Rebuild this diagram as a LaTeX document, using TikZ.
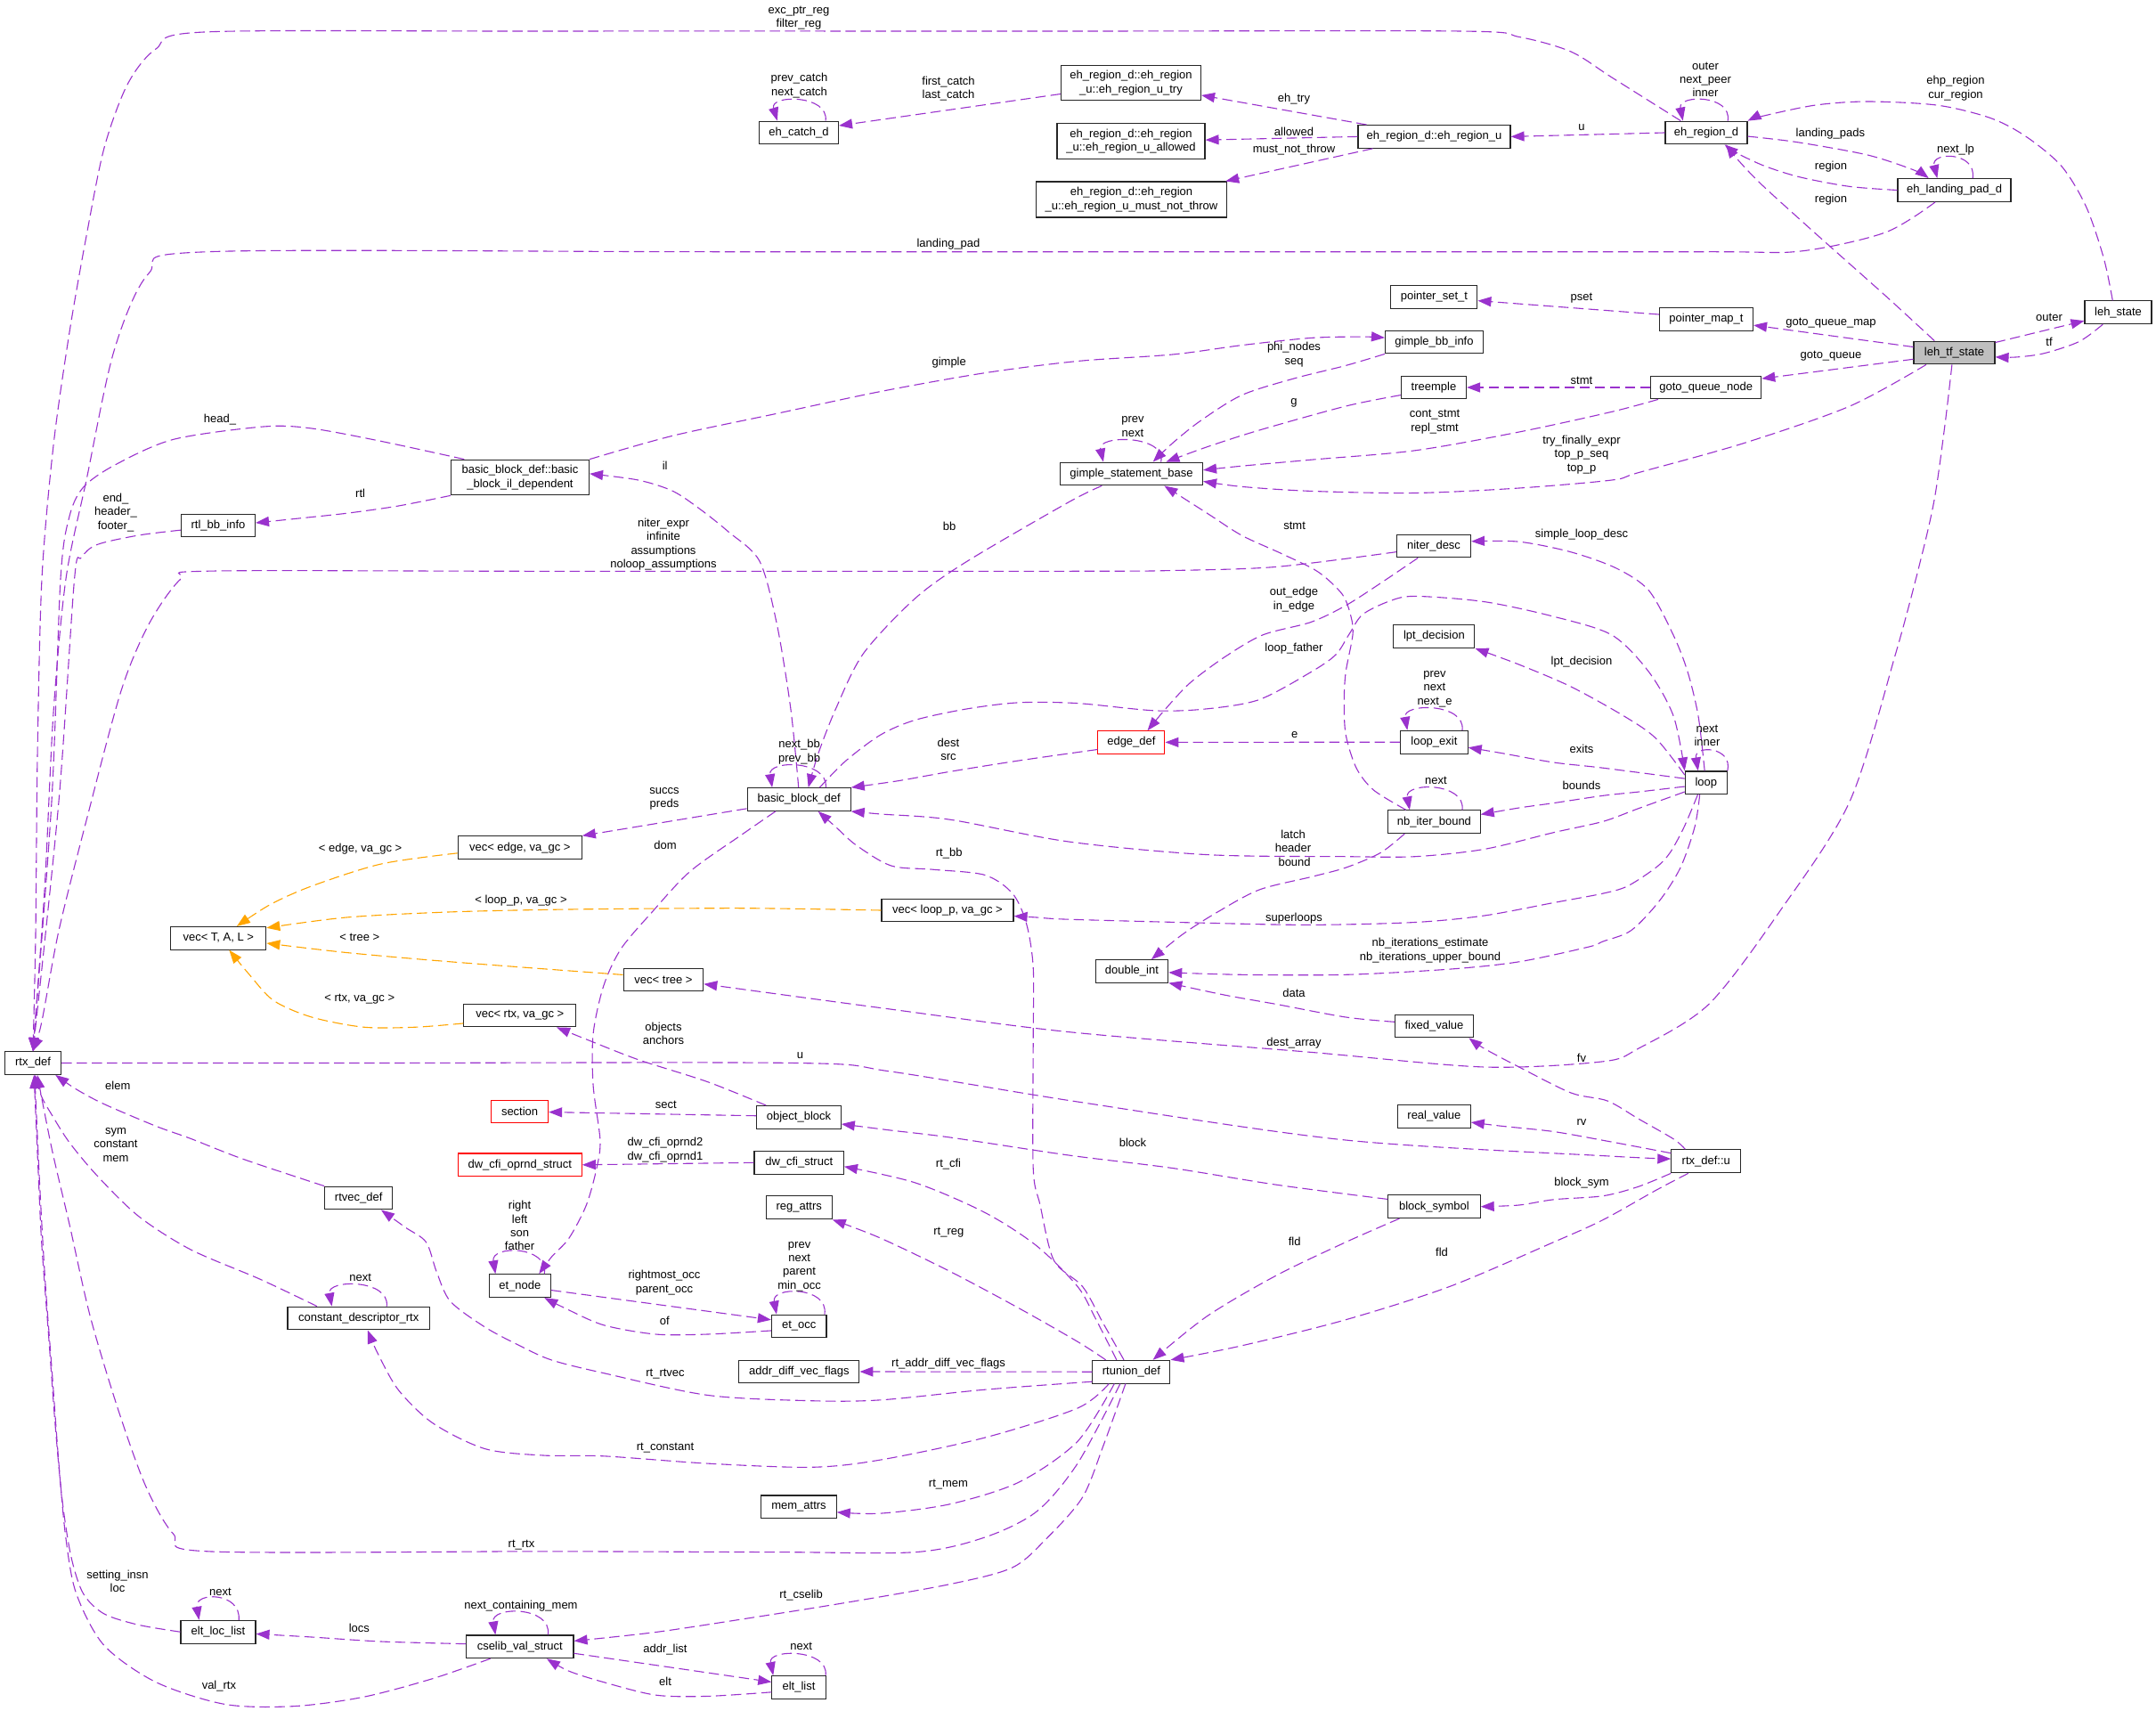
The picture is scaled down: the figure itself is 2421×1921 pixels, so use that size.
\documentclass[tikz,border=0pt]{standalone}
\usepackage{fontspec}
\setmainfont{Liberation Sans}
\usetikzlibrary{arrows.meta}
\definecolor{ecol}{HTML}{9A32CD}
\definecolor{ocol}{HTML}{FFA500}
\definecolor{gfill}{HTML}{BFBFBF}
\newcommand\dxfont{\fontsize{13}{15.3}\selectfont}
\begin{document}
\begin{tikzpicture}[x=1pt,y=-1pt,
  cls/.style={draw=black!85, line width=1.1pt, fill=white, inner sep=0pt, minimum height=25.7pt, align=center, font=\dxfont},
  redbox/.style={cls, draw=red},
  lbl/.style={inner sep=0pt, align=center, font=\dxfont},
  rel/.style={draw=ecol, line width=1.1pt, dash pattern=on 11.5pt off 5.5pt, -{Triangle[length=15pt,width=11pt]}},
  tmpl/.style={rel, draw=ocol}]
\useasboundingbox[fill=white] (0,0) rectangle (2421,1921);

% ---------- nodes ----------
\node[cls, minimum width=89pt] (ehcatch) at (897,149) {eh\_catch\_d};
\node[cls, minimum width=157pt, minimum height=39.5pt] (utry) at (1270,93) {eh\_region\_d::eh\_region\\\_u::eh\_region\_u\_try};
\node[cls, minimum width=166pt, minimum height=39.5pt] (uallowed) at (1270,158.6) {eh\_region\_d::eh\_region\\\_u::eh\_region\_u\_allowed};
\node[cls, minimum width=214.5pt, minimum height=40pt] (umnt) at (1270.5,224) {eh\_region\_d::eh\_region\\\_u::eh\_region\_u\_must\_not\_throw};
\node[cls, minimum width=171pt] (ehu) at (1610.5,153.4) {eh\_region\_d::eh\_region\_u};
\node[cls, minimum width=92pt] (ehr) at (1916,149) {eh\_region\_d};
\node[cls, minimum width=127pt] (ehlp) at (2194.5,213.5) {eh\_landing\_pad\_d};
\node[cls, minimum width=75pt] (lehs) at (2378.5,350.7) {leh\_state};
\node[cls, fill=gfill, minimum width=91pt] (lehtf) at (2194.5,396) {leh\_tf\_state};
\node[cls, minimum width=105pt] (pmap) at (1916,358.6) {pointer\_map\_t};
\node[cls, minimum width=124pt] (gqn) at (1915.7,435) {goto\_queue\_node};
\node[cls, minimum width=97pt] (pset) at (1610.4,333.3) {pointer\_set\_t};
\node[cls, minimum width=110pt] (gbb) at (1610.5,384) {gimple\_bb\_info};
\node[cls, minimum width=73pt] (treemple) at (1610,435) {treemple};
\node[cls, minimum width=160pt] (gsb) at (1270.5,532) {gimple\_statement\_base};
\node[cls, minimum width=83pt] (niter) at (1610,613) {niter\_desc};
\node[cls, minimum width=155pt, minimum height=39.6pt] (bbil) at (584,536) {basic\_block\_def::basic\\\_block\_il\_dependent};
\node[cls, minimum width=83pt] (rtlbb) at (245,590) {rtl\_bb\_info};
\node[cls, minimum width=63pt] (rtx) at (37,1193.5) {rtx\_def};
\node[cls, minimum width=107pt] (vecT) at (245.3,1053.3) {vec< T, A, L >};
\node[cls, minimum width=139pt] (vecedge) at (583.8,951.7) {vec< edge, va\_gc >};
\node[cls, minimum width=126pt] (vecrtx) at (583.8,1140) {vec< rtx, va\_gc >};
\node[redbox, minimum width=64pt] (sectn) at (583.6,1248) {section};
\node[cls, minimum width=116pt] (bbd) at (897.2,897.5) {basic\_block\_def};
\node[cls, minimum width=148pt] (veclp) at (1064,1022) {vec< loop\_p, va\_gc >};
\node[cls, minimum width=89.5pt] (vectree) at (745,1100) {vec< tree >};
\node[cls, minimum width=94.5pt] (objblk) at (897,1254.4) {object\_block};
\node[redbox, minimum width=75pt, minimum height=25.3pt] (edgedef) at (1270.4,833.4) {edge\_def};
\node[cls, minimum width=91pt] (lpt) at (1610.4,714.6) {lpt\_decision};
\node[cls, minimum width=75.5pt] (lexit) at (1610.4,833.2) {loop\_exit};
\node[cls, minimum width=103.5pt] (nbib) at (1610.4,922.7) {nb\_iter\_bound};
\node[cls, minimum width=81.7pt, minimum height=25.3pt] (dint) at (1270.9,1090.4) {double\_int};
\node[cls, minimum width=88pt] (fixv) at (1610.5,1152) {fixed\_value};
\node[cls, minimum width=81.7pt] (realv) at (1610.4,1253.5) {real\_value};
\node[cls, minimum width=47pt] (loopn) at (1915.8,878.8) {loop};
\node[cls, minimum width=78pt, minimum height=26pt] (rtxu) at (1915.8,1303.8) {rtx\_def::u};
\node[redbox, minimum width=139pt] (dwop) at (583.8,1307.8) {dw\_cfi\_oprnd\_struct};
\node[cls, minimum width=76pt] (rtvec) at (402.7,1345) {rtvec\_def};
\node[cls, minimum width=69pt] (etnode) at (583.8,1443.6) {et\_node};
\node[cls, minimum width=159.5pt] (cdrtx) at (402.7,1480) {constant\_descriptor\_rtx};
\node[cls, minimum width=100.4pt] (dwcfi) at (897.2,1305.3) {dw\_cfi\_struct};
\node[cls, minimum width=74pt, minimum height=26pt] (regat) at (897.2,1355.8) {reg\_attrs};
\node[cls, minimum width=61.5pt] (etocc) at (897.2,1489) {et\_occ};
\node[cls, minimum width=135pt] (adv) at (897.4,1540) {addr\_diff\_vec\_flags};
\node[cls, minimum width=84.4pt] (memat) at (897,1691.8) {mem\_attrs};
\node[cls, minimum width=60.3pt] (eltlist) at (897,1894.4) {elt\_list};
\node[cls, minimum width=120.4pt] (cselib) at (583.8,1848.8) {cselib\_val\_struct};
\node[cls, minimum width=84pt] (eltloc) at (245,1832.2) {elt\_loc\_list};
\node[cls, minimum width=87pt] (rtun) at (1270.4,1540.2) {rtunion\_def};
\node[cls, minimum width=103.5pt] (bsym) at (1610.4,1354.7) {block\_symbol};

% ---------- edges ----------
% into rtx_def (top)
\draw[rel] plot[smooth] coordinates {(ehr.155) (1810,87) (1764,58) (1706,41.5) (1640,35) (1200,35) (600,35) (229,36) (175,55) (143,95) (117,166) (97,265) (78,373) (60,500) (47,650) (42,850) (40,1050) (rtx.north)};
\draw[rel] plot[smooth] coordinates {(ehlp.212) (2117,261) (2022,282) (1919,282.7) (1500,282.7) (800,282.7) (233,282.7) (167,307) (128,394) (97,539) (74,650) (60,800) (50,1000) (rtx.north)};
\draw[rel] plot[smooth] coordinates {(bbil.162.5) (428,495.4) (350,481) (296,479) (194.5,493.4) (128.4,522.4) (93.4,547.3) (77.8,580.4) (68,650) (58,900) (rtx.north)};
\draw[rel] plot[smooth] coordinates {(rtlbb.187) (155.6,601) (109,611.5) (91.4,626) (83.6,650) (66,900) (rtx.north)};
\draw[rel] plot[smooth] coordinates {(niter.189) (1433.4,636.4) (1316.7,640.5) (1200,641.3) (600,641.3) (233.4,641.2) (202.3,650.7) (167.3,700.5) (136.2,775) (97.3,920) (66.1,1044.6) (46.7,1148) (rtx.north)};
% rtx_def -> rtx_def::u
\draw[rel] plot[smooth] coordinates {(rtx.east) (400,1193.5) (895,1193.5) (1000,1203) (1210,1237) (1511,1280) (1807,1298) (rtxu.176)};

% eh region group
\draw[rel] (utry.189) -- (ehcatch.10);
\draw[rel] (ehcatch.24) .. controls (931,106) and (864,106) .. (ehcatch.151.5);
\draw[rel] (ehu.170.4) -- (utry.-10);
\draw[rel] (ehu.west) -- (uallowed.1.3);
\draw[rel] (ehu.191.7) -- (umnt.11.1);
\draw[rel] (ehr.west) -- (ehu.east);
\draw[rel] (ehr.29) .. controls (1945,106) and (1884,106) .. (ehr.153.4);
\draw[rel] plot[smooth] coordinates {(ehr.-5) (2017.8,159.6) (2097,174) (2148.5,190.7) (ehlp.155.7)};
\draw[rel] plot[smooth] coordinates {(ehlp.west) (2077,209.4) (2021.8,199) (1982,186.6) (1950.5,172) (ehr.-33.8)};
\draw[rel] plot[smooth] coordinates {(lehtf.149.7) (2116.8,331.7) (2037.6,261.2) (1978.2,207.3) (1950.5,178.3) (ehr.-31)};
\draw[rel] (ehlp.33.5) .. controls (2220,170) and (2168,170) .. (ehlp.145.2);
\draw[rel] plot[smooth] coordinates {(lehs.115) (2362.4,290.2) (2342.6,232.2) (2314.9,186.6) (2275.2,153.4) (2235.6,132.7) (2176,118.2) (2097,114) (2037.6,118.2) (1978.2,130.6) (ehr.16.4)};
\draw[rel] (lehtf.14) -- (lehs.194);
\draw[rel] plot[smooth] coordinates {(lehs.218.8) (2334.7,383.5) (2295,396.8) (2263.4,401) (lehtf.-6.3)};
\draw[rel] (lehtf.172.1) -- (pmap.-7.7);
\draw[rel] (lehtf.189.2) -- (gqn.9.2);
\draw[rel] (pmap.174.6) -- (pset.-5.5);
\draw[rel] (gqn.west) -- (treemple.east);
\draw[rel] plot[smooth] coordinates {(gqn.194.9) (1810,462.3) (1705.8,485) (1589,505.8) (1472.3,516.2) (1394.5,523.2) (gsb.3.9)};
\draw[rel] plot[smooth] coordinates {(lehtf.203.2) (2077.2,456) (1958.4,497.5) (1839.6,530.7) (1810,539) (1705.8,548) (1589,553.5) (1472.3,551.4) (1394.5,546.4) (gsb.-6.4)};
\draw[rel] plot[smooth] coordinates {(gbb.south west) (1511.2,410.4) (1452.9,425) (1394.5,443.6) (1347.8,472.6) (1316.7,497.5) (gsb.29.3)};
\draw[rel] plot[smooth] coordinates {(treemple.193.3) (1511.2,456) (1414,483) (1355.6,501.7) (gsb.19.4)};
\draw[rel] (gsb.22.2) .. controls (1310,488) and (1232,488) .. (gsb.157.8);
\draw[rel] plot[smooth] coordinates {(bbil.north east) (755.6,489.2) (872.3,464.3) (989,439.5) (1105.8,418.7) (1210,405.5) (1316.7,398) (1394.5,387.6) (1472.3,379.4) (1530.7,378.1) (gbb.175.2)};
\draw[rel] plot[smooth] coordinates {(bbil.south west) (447.4,568) (389,576.3) (330.7,582.5) (rtlbb.4.5)};
% dest_array
\draw[rel] plot[smooth] coordinates {(lehtf.-101) (2184,476.8) (2172.3,559.7) (2156.4,630) (2128.7,733.6) (2077.2,899.5) (1998,1023.9) (1918.8,1127.5) (1839.6,1177.3) (1800,1191.8) (1666.8,1198) (1472.3,1181.4) (1200,1158.6) (989,1131.6) (vectree.-6.8)};

% basic block group
\draw[rel] plot[smooth] coordinates {(bbd.92) (887.9,795.8) (872.3,700.5) (852.9,630) (817.9,597) (786.7,572.1) (755.6,551.4) (716.7,539) (bbil.3.9)};
\draw[rel] plot[smooth] coordinates {(gsb.202.1) (1200,563.8) (1086.3,630) (1028,671.5) (969.6,733.6) (938.5,795.8) (919,845.6) (bbd.52)};
\draw[rel] (bbd.24.9) .. controls (930,853) and (862,853) .. (bbd.156);
\draw[rel] plot[smooth] coordinates {(bbd.30.5) (950.1,853.9) (989,824.9) (1028,808.3) (1086.3,795.8) (1144.6,788.8) (1210,789.6) (1297.3,797.9) (1355.6,795.8) (1414,785.5) (1472.3,754.4) (1500,735) (1515,712) (1530,690) (1560,675) (1589,669.4) (1666.8,675.6) (1744.6,692.2) (1810,713) (1851.5,754.4) (1879.2,804.1) (loopn.north west)};
\draw[rel] plot[smooth] coordinates {(loopn.97) (1907,804) (1895,754) (1879,713) (1851.5,663) (1815,638) (1764.1,619.8) (1705.8,608.2) (niter.7.7)};
\draw[rel] (loopn.north east) .. controls (1946,838) and (1902,836) .. (loopn.124.4);
\draw[rel] plot[smooth] coordinates {(loopn.160) (1859.4,829) (1823.8,804.1) (1764.1,771) (1705.7,746.1) (lpt.south east)};
\draw[rel] plot[smooth] coordinates {(loopn.169.9) (1800,862.2) (1744.6,856) (1686.3,845.6) (lexit.-9.3)};
\draw[rel] plot[smooth] coordinates {(loopn.190) (1839.6,889.1) (1800,893.3) (1744.6,901.6) (1705.8,907) (nbib.9.5)};
\draw[rel] plot[smooth] coordinates {(loopn.203) (1839.6,907.8) (1800,922.3) (1744.6,934.7) (1666.8,953.4) (1589,961.7) (1511.2,961.7) (1355.6,959.6) (1200,945) (1066.8,920.2) (989,914) (bbd.south east)};
\draw[rel] (nbib.23.75) .. controls (1646,878) and (1577,878) .. (nbib.154.7);
\draw[rel] plot[smooth] coordinates {(nbib.157.5) (1542.4,887) (1523,862.2) (1511.2,824.9) (1509.3,787.5) (1511.2,754.4) (1519,712.9) (1517,692.2) (1507.3,667.3) (1480,642) (1440,622) (1394.5,601.2) (1355.6,576.3) (gsb.-20.4)};
\draw[rel] plot[smooth] coordinates {(niter.217.1) (1550.1,654.9) (1511.2,679.8) (1472.3,698.4) (1417.9,712.9) (1375,737.8) (1336.2,766.8) (1308.9,795.8) (edgedef.36.7)};
\draw[rel] (lexit.west) -- (edgedef.east);
\draw[rel] (lexit.23.75) .. controls (1646,789) and (1575,789) .. (lexit.156.2);
\draw[rel] plot[smooth] coordinates {(edgedef.192) (1144.6,853.9) (1066.8,866.3) (1008.5,876.7) (bbd.north east)};
\draw[rel] (bbd.190.8) -- (vecedge.north east);
\draw[rel] plot[smooth] coordinates {(bbd.207.3) (833.4,936.8) (775,978.3) (732.3,1023.9) (697.3,1065.3) (677.8,1106.8) (666.1,1160.7) (666.1,1218.7) (673.9,1280) (670,1311.5) (658.4,1353) (638.9,1390.2) (619.5,1411) (etnode.32.5)};
\draw[rel] plot[smooth] coordinates {(rtun.122.5) (1238.9,1485.9) (1215.6,1444.4) (1183.5,1415.3) (1168,1353) (1160.2,1311.5) (1160.2,1169) (1160.2,1086) (1152.4,1036.3) (1136.9,1003.1) (1105.8,982.4) (1047.4,976.2) (1000.7,972) (961.8,949.2) (938.5,928.5) (bbd.-32.9)};
\draw[rel] plot[smooth] coordinates {(loopn.235) (1891.1,928.5) (1875.2,957.5) (1859.4,974.1) (1827.7,994.8) (1800,1003.1) (1744.6,1013.5) (1666.8,1028) (1589,1035.5) (1472.3,1038.4) (1355.6,1036.3) (1200,1032.2) (1164,1030) (veclp.-5.3)};
\draw[rel] plot[smooth] coordinates {(loopn.242) (1903,928.5) (1887,974) (1863.4,1011.4) (1831.7,1044.6) (1800,1057) (1783.5,1063.2) (1705.8,1079.8) (1628,1088.1) (1511.2,1094.3) (1394.5,1094.3) (dint.-2)};
\draw[rel] plot[smooth] coordinates {(nbib.202.5) (1550.1,957.5) (1511.2,974.1) (1472.3,984.5) (1414,999) (1367.3,1023.9) (1328.4,1048.7) (dint.31.7)};
\draw[rel] plot[smooth] coordinates {(fixv.174) (1511.2,1142) (1433.4,1127.5) (1375,1117.1) (dint.south east)};

% rtx_def::u group
\draw[rel] plot[smooth] coordinates {(rtxu.150.3) (1879.2,1278.8) (1839.6,1256) (1805,1236) (1764.1,1227) (1705.8,1198) (1666.8,1177.3) (fixv.-19.2)};
\draw[rel] plot[smooth] coordinates {(rtxu.167.1) (1807.1,1281.6) (1744.6,1270.5) (1686.3,1264.3) (realv.-9.3)};
\draw[rel] plot[smooth] coordinates {(rtxu.south west) (1839.6,1332.3) (1800,1342.7) (1744.6,1346.8) (1705.7,1353) (bsym.east)};
\draw[rel] plot[smooth] coordinates {(rtxu.214.7) (1859.4,1336.4) (1800,1369.6) (1744.6,1394.6) (1627.9,1444.4) (1511.2,1481.7) (1394.5,1510.8) (rtun.north east)};
\draw[rel] plot[smooth] coordinates {(bsym.199.2) (1511.2,1394.6) (1433.4,1431.9) (1355.6,1477.6) (rtun.29.2)};
\draw[rel] plot[smooth] coordinates {(bsym.171.3) (1433.4,1330.2) (1316.7,1311.5) (1200,1297) (1066.8,1277) (1000,1269) (objblk.-9.4)};
\draw[rel] (objblk.178.3) -- (sectn.-1.8);
\draw[rel] plot[smooth] coordinates {(objblk.160.5) (794.5,1214.6) (716.7,1189.7) (658.4,1166.9) (vecrtx.-18)};

% templates
\draw[tmpl] plot[smooth] coordinates {(vecedge.185.8) (428,970) (350.1,994.8) (303.4,1015.6) (vecT.33.9)};
\draw[tmpl] plot[smooth] coordinates {(veclp.west) (833.4,1019.7) (638.9,1021) (505.7,1023.9) (389,1030) (vecT.12.2)};
\draw[tmpl] plot[smooth] coordinates {(vectree.173.9) (505.7,1079.8) (389,1069.5) (vecT.-6.2)};
\draw[tmpl] plot[smooth] coordinates {(vecrtx.188.6) (466.8,1153.2) (408.5,1153.2) (350.1,1142) (307.3,1123.4) (280.1,1094.3) (vecT.-48.3)};

% into rtx_def (bottom)
\draw[rel] plot[smooth] coordinates {(rtvec.north west) (272.3,1301.1) (214,1278.3) (175,1264.3) (116.7,1239.5) (85.6,1222.9) (rtx.-28.9)};
\draw[rel] plot[smooth] coordinates {(cdrtx.164.6) (291.8,1436.1) (214,1402.9) (155.6,1365.5) (108.9,1319.8) (77.8,1282.5) (58.4,1252) (46.7,1231.2) (rtx.-80)};
\draw[rel] (cdrtx.23.8) .. controls (438,1436) and (367,1436) .. (cdrtx.156.2);
\draw[rel] plot[smooth] coordinates {(rtun.227) (1210,1643.1) (1164.1,1697) (1105.8,1726) (1028,1742.6) (872.3,1742.6) (609.9,1741.8) (233.4,1741.8) (194.5,1722) (163.4,1668) (132.3,1581.4) (101.2,1477.6) (77.8,1373.8) (58.4,1290.8) (rtx.-70)};
\draw[rel] plot[smooth] coordinates {(eltloc.west) (155.6,1824.3) (116.7,1811.8) (93.4,1789) (79.8,1747.5) (70,1685.2) (62.2,1602.1) (54.5,1498.4) (46.7,1394.6) (42.8,1311.5) (rtx.-85)};
\draw[rel] plot[smooth] coordinates {(cselib.202.3) (486.3,1884.5) (408.5,1905.2) (330.7,1915.6) (252.9,1913.5) (175.1,1888.6) (116.7,1847.1) (85.6,1789) (73.9,1726.7) (66.1,1643.7) (58.4,1539.9) (50.6,1436.1) (44.7,1332.3) (rtx.-82)};

% rtunion_def group
\draw[rel] plot[smooth] coordinates {(rtun.194.6) (1105.8,1560.2) (989,1571.8) (911.2,1572.7) (794.5,1566.4) (677.8,1541.6) (619.5,1527) (583.5,1510.8) (544.6,1490) (505.7,1461) (490.2,1427.8) (478.5,1394.6) (455.2,1378) (rtvec.-28.9)};
\draw[rel] plot[smooth] coordinates {(rtun.208.5) (1210,1581) (1105.8,1614.1) (989,1639) (911.2,1647.3) (794.5,1643.1) (677.8,1634.8) (609.9,1634) (544.6,1626.6) (486.3,1598) (447.4,1560.6) (424,1519.1) (cdrtx.-53)};
\draw[rel] (rtun.west) -- (adv.east);
\draw[rel] plot[smooth] coordinates {(rtun.215.7) (1210,1618.3) (1144.6,1663.9) (1066.8,1688.7) (989,1699.1) (memat.-8.8)};
\draw[rel] plot[smooth] coordinates {(rtun.244.2) (1239,1622.9) (1215.6,1681) (1175.8,1726.7) (1136.9,1759.9) (1066.8,1778.6) (950.1,1799.3) (833.4,1817.9) (736.2,1832.5) (cselib.6.4)};
\draw[rel] plot[smooth] coordinates {(rtun.155) (1210,1506.3) (1144.6,1469) (1066.8,1427.5) (989,1390.2) (regat.south east)};
\draw[rel] plot[smooth] coordinates {(rtun.141) (1230,1480) (1210,1444.4) (1164,1398.7) (1105.8,1361.3) (1028,1328) (dwcfi.-5.6)};
\draw[rel] (dwcfi.west) -- (dwop.east);
\draw[rel] (etnode.26.4) .. controls (616,1398) and (551,1398) .. (etnode.154.3);
\draw[rel] (etnode.-8) -- (etocc.167.7);
\draw[rel] plot[smooth] coordinates {(etocc.189) (794.5,1498) (736.2,1498) (677.8,1487.7) (635,1469) (etnode.-26.4)};
\draw[rel] (etocc.25) .. controls (931,1444) and (866,1444) .. (etocc.152.7);

% cselib group
\draw[rel] (eltloc.30.9) .. controls (271,1787) and (218,1787) .. (eltloc.148.9);
\draw[rel] plot[smooth] coordinates {(cselib.177.6) (428,1843) (350.1,1838) (eltloc.-3)};
\draw[rel] (cselib.23.3) .. controls (620,1803) and (551,1803) .. (cselib.154.3);
\draw[rel] (cselib.-7.4) -- (eltlist.169.1);
\draw[rel] plot[smooth] coordinates {(eltlist.190.9) (794.5,1904.4) (736.2,1903.1) (677.8,1888.6) (638.9,1876.2) (cselib.-24.7)};
\draw[rel] (eltlist.24.8) .. controls (931,1851) and (862,1851) .. (eltlist.155.8);

% ---------- labels ----------
\node[lbl] (l1) at (897,20) {exc\_ptr\_reg\\filter\_reg};
\node[lbl] (l2) at (1065,99.5) {first\_catch\\last\_catch};
\node[lbl] (l3) at (897.5,96) {prev\_catch\\next\_catch};
\node[lbl] (l4) at (1453,110.7) {eh\_try};
\node[lbl] (l5) at (1453,147.6) {allowed};
\node[lbl] (l6) at (1453,168.3) {must\_not\_throw};
\node[lbl] (l7) at (1776,143) {u};
\node[lbl] (l8) at (1915,89.4) {outer\\next\_peer\\inner};
\node[lbl] (l9) at (2196,99) {ehp\_region\\cur\_region};
\node[lbl] (l10) at (2055.4,150) {landing\_pads};
\node[lbl] (l11) at (2196,168) {next\_lp};
\node[lbl] (l12) at (2056,187) {region};
\node[lbl] (l13) at (2056,224) {region};
\node[lbl] (l14) at (1065,274.5) {landing\_pad};
\node[lbl] (l15) at (1776,335) {pset};
\node[lbl] (l16) at (2056,362.8) {goto\_queue\_map};
\node[lbl] (l17) at (2301,356.5) {outer};
\node[lbl] (l18) at (2301,384.3) {tf};
\node[lbl] (l19) at (2056,400) {goto\_queue};
\node[lbl] (l20) at (1776,427) {stmt};
\node[lbl] (l21) at (1065.7,407.5) {gimple};
\node[lbl] (l22) at (1453,398) {phi\_nodes\\seq};
\node[lbl] (l23) at (1453,452) {g};
\node[lbl] (l24) at (1611,473.7) {cont\_stmt\\repl\_stmt};
\node[lbl] (l25) at (1776,510.6) {try\_finally\_expr\\top\_p\_seq\\top\_p};
\node[lbl] (l26) at (1272,479) {prev\\next};
\node[lbl] (l27) at (247,470.6) {head\_};
\node[lbl] (l28) at (746.7,523) {il};
\node[lbl] (l29) at (404.6,554.3) {rtl};
\node[lbl] (l30) at (130,575.5) {end\_\\header\_\\footer\_};
\node[lbl] (l31) at (1066,590.4) {bb};
\node[lbl] (l32) at (1453.6,590.4) {stmt};
\node[lbl] (l33) at (1776,600) {simple\_loop\_desc};
\node[lbl] (l34) at (745,611) {niter\_expr\\infinite\\assumptions\\noloop\_assumptions};
\node[lbl] (l35) at (1453,673) {out\_edge\\in\_edge};
\node[lbl] (l36) at (1453,728) {loop\_father};
\node[lbl] (l37) at (1776,743) {lpt\_decision};
\node[lbl] (l38) at (1611,773.5) {prev\\next\\next\_e};
\node[lbl] (l39) at (1453.6,825) {e};
\node[lbl] (l40) at (1917,826) {next\\inner};
\node[lbl] (l41) at (1776,840.6) {exits};
\node[lbl] (l42) at (897.6,844) {next\_bb\\prev\_bb};
\node[lbl] (l43) at (1065,841.5) {dest\\src};
\node[lbl] (l44) at (746,897) {succs\\preds};
\node[lbl] (l45) at (1612.4,876.7) {next};
\node[lbl] (l46) at (1776,882) {bounds};
\node[lbl] (l47) at (1452,944) {latch\\header};
\node[lbl] (l48) at (747,948.4) {dom};
\node[lbl] (l49) at (404.6,953) {< edge, va\_gc >};
\node[lbl] (l50) at (1065.7,958.4) {rt\_bb};
\node[lbl] (l51) at (1453.6,968.3) {bound};
\node[lbl] (l52) at (585,1011.4) {< loop\_p, va\_gc >};
\node[lbl] (l53) at (1453,1031) {superloops};
\node[lbl] (l54) at (403.8,1052) {< tree >};
\node[lbl] (l55) at (1606,1067) {nb\_iterations\_estimate\\nb\_iterations\_upper\_bound};
\node[lbl] (l56) at (1453,1115) {data};
\node[lbl] (l57) at (403.8,1121.3) {< rtx, va\_gc >};
\node[lbl] (l58) at (745,1160) {objects\\anchors};
\node[lbl] (l59) at (1453,1171.5) {dest\_array};
\node[lbl] (l60) at (898.4,1184.7) {u};
\node[lbl] (l61) at (1776,1187.6) {fv};
\node[lbl] (l62) at (132.3,1218.7) {elem};
\node[lbl] (l63) at (747.8,1240.7) {sect};
\node[lbl] (l64) at (1776,1260) {rv};
\node[lbl] (l65) at (1272,1283) {block};
\node[lbl] (l66) at (130,1285.5) {sym\\constant\\mem};
\node[lbl] (l67) at (747,1291) {dw\_cfi\_oprnd2\\dw\_cfi\_oprnd1};
\node[lbl] (l68) at (1065,1307.4) {rt\_cfi};
\node[lbl] (l69) at (1776,1328.5) {block\_sym};
\node[lbl] (l70) at (583.6,1376) {right\\left\\son\\father};
\node[lbl] (l71) at (1065.3,1383.7) {rt\_reg};
\node[lbl] (l72) at (1453.6,1394) {fld};
\node[lbl] (l73) at (1619,1406) {fld};
\node[lbl] (l74) at (404.6,1434.8) {next};
\node[lbl] (l75) at (746,1440) {rightmost\_occ\\parent\_occ};
\node[lbl] (l76) at (897.6,1422) {prev\\next\\parent\\min\_occ};
\node[lbl] (l77) at (746.3,1482.6) {of};
\node[lbl] (l78) at (1065,1531.6) {rt\_addr\_diff\_vec\_flags};
\node[lbl] (l79) at (747,1542.8) {rt\_rtvec};
\node[lbl] (l80) at (747,1626) {rt\_constant};
\node[lbl] (l81) at (1065,1667) {rt\_mem};
\node[lbl] (l82) at (585.5,1735) {rt\_rtx};
\node[lbl] (l83) at (132,1775) {setting\_insn\\loc};
\node[lbl] (l84) at (247.4,1787) {next};
\node[lbl] (l85) at (899.6,1791.5) {rt\_cselib};
\node[lbl] (l86) at (585,1803.5) {next\_containing\_mem};
\node[lbl] (l87) at (403.4,1827.6) {locs};
\node[lbl] (l88) at (899.6,1848.3) {next};
\node[lbl] (l89) at (747,1852.5) {addr\_list};
\node[lbl] (l90) at (747,1887.8) {elt};
\node[lbl] (l91) at (245.9,1892.8) {val\_rtx};
\end{tikzpicture}
\end{document}
